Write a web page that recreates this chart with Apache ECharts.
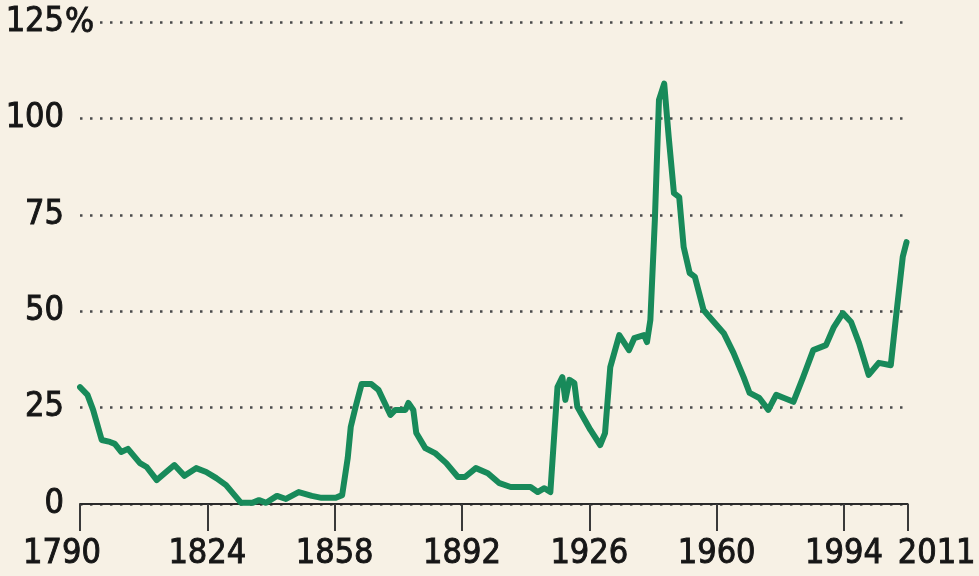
<!DOCTYPE html>
<html>
<head>
<meta charset="utf-8">
<script src="https://cdn.jsdelivr.net/npm/echarts@6/dist/echarts.min.js"></script>
<style>
html,body{margin:0;padding:0;background:#f7f1e5;}
#chart{width:979px;height:576px;}
</style>
</head>
<body>
<div id="chart"></div>
<script>
var years = [1790,1792,1793.5,1795.8,1798,1799.3,1801,1802.8,1806,1807.8,1810.5,1813,1815.2,1817.9,1821,1823.7,1826.4,1829,1833,1836,1837.8,1839.7,1842.6,1845,1848.4,1851.9,1854.5,1858.3,1860,1861.5,1862.3,1863.6,1865.2,1867.8,1869.7,1872.9,1874.2,1876.9,1877.7,1879,1879.8,1882.2,1884.8,1887.8,1890.9,1892.8,1895.7,1898.9,1902,1905,1910.3,1912.2,1914,1915.6,1917.5,1918.8,1919.6,1920.7,1922,1922.8,1926.3,1928.9,1930.2,1931.6,1934,1936.6,1938,1940.6,1941.4,1942.3,1943.5,1944.6,1946,1947.2,1948.6,1950,1951.2,1952.8,1954.2,1956.5,1958.1,1961.9,1964.5,1967.2,1968.8,1971.4,1973.8,1975.9,1978,1980.5,1983.1,1985.8,1989.2,1991.3,1993.7,1995.9,1998,2000.6,2003.3,2006.5,2007.8,2009.7,2010.7];
var values = [30.3,28.3,24.4,16.6,16.1,15.6,13.5,14.3,10.6,9.6,6.2,8.3,10.1,7.3,9.3,8.3,6.7,4.9,0.3,0.3,1,0.3,2.1,1.3,3.1,2.1,1.6,1.6,2.3,12,20,25.2,31.1,31.1,29.6,23.1,24.4,24.4,26.2,24.4,18.4,14.5,13.2,10.6,7,7,9.3,8,5.4,4.4,4.4,3.1,4.1,3.1,30.3,32.9,27,32.2,31.4,25.2,19.2,15.3,18.4,35.5,43.8,39.9,43,43.8,42,47.7,73.6,104.8,109,95.2,80.6,79.6,66.6,59.9,58.9,50.3,48.5,44.3,39.2,32.9,28.8,27.5,24.4,28.3,27.5,26.5,32.9,39.9,41.2,45.9,49.5,47.2,41.8,33.5,36.6,36,47.7,64.1,67.9];
var xTicks = [1790,1824,1858,1892,1926,1960,1994,2011];
var yTicks = [0,25,50,75,100,125];

var FONT = '"Liberation Sans Narrow","DejaVu Sans Condensed","Liberation Sans",sans-serif';
var FS = 34;
var TXT = {fontSize:FS,fontFamily:FONT,color:'#161616',textBorderColor:'#161616',textBorderWidth:0.9};
var data = years.map(function(y,i){return [y, values[i]];});
function tx(extra){var o={};for(var k in TXT)o[k]=TXT[k];for(var k2 in extra)o[k2]=extra[k2];return o;}

var chart = echarts.init(document.getElementById('chart'), null, {renderer:'canvas'});
chart.setOption({
  backgroundColor:'#f7f1e5',
  animation:false,
  grid:{left:80,right:67,top:22,bottom:72,containLabel:false},
  xAxis:{
    type:'value', min:1790, max:2011,
    splitLine:{show:false},
    axisLine:{show:true,lineStyle:{color:'#2a2a2a',width:2}},
    axisTick:{show:true,customValues:xTicks,length:27,lineStyle:{color:'#3a3a3a',width:2}},
    axisLabel:tx({
      customValues:xTicks, margin:33,
      formatter:function(v){
        if(v===1790) return '{l|1790}';
        if(v===2011) return '{r|2011}';
        return '{n|'+v+'}';
      },
      rich:{
        n:tx({}),
        l:tx({padding:[0,36,0,0]}),
        r:tx({padding:[0,0,0,58]})
      }
    })
  },
  yAxis:{
    type:'value', min:0, max:125, interval:25,
    axisLine:{show:false}, axisTick:{show:false},
    splitLine:{show:true,lineStyle:{color:'#4a4a4a',width:2.5,type:[2.5,7.5]}},
    axisLabel:tx({margin:16,formatter:function(v){return String(v);}})
  },
  graphic:[
    {type:'rect',z:100,shape:{x:74,y:17,width:17,height:10},style:{fill:'#f7f1e5'}},
    {type:'text',z:101,x:65,y:23,style:{text:'%',font:FS+'px '+FONT,fill:'#161616',stroke:'#161616',lineWidth:0.9,verticalAlign:'middle',align:'left'}}
  ],
  series:[{
    type:'line', data:data, symbol:'none', smooth:false,
    lineStyle:{color:'#188a5a',width:6,join:'round',cap:'round'},
    z:5
  }]
});
</script>
</body>
</html>
